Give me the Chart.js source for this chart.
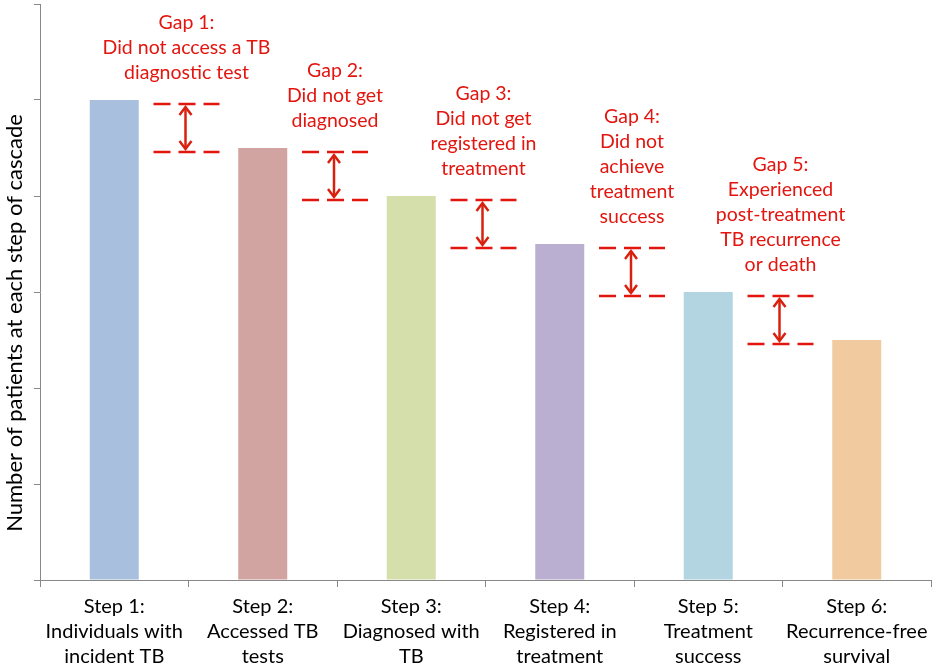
<!DOCTYPE html>
<html lang="en">
<head>
<meta charset="UTF-8">
<title>TB care cascade</title>
<script src="https://cdn.jsdelivr.net/npm/chart.js"></script>
<style>
  body { margin: 0; background: #fff; }
  #wrap { width: 935px; height: 669px; }
</style>
</head>
<body>
<div id="wrap"><canvas id="cascade" width="935" height="669"></canvas></div>
<script>
// step labels (multi-line)
var steps = [
  ['Step 1:', 'Individuals with', 'incident TB'],
  ['Step 2:', 'Accessed TB', 'tests'],
  ['Step 3:', 'Diagnosed with', 'TB'],
  ['Step 4:', 'Registered in', 'treatment'],
  ['Step 5:', 'Treatment', 'success'],
  ['Step 6:', 'Recurrence-free', 'survival']
];
// relative number of patients (axis has no numbers, read against tick marks)
var patients = [5, 4.5, 4, 3.5, 3, 2.5];
var barColors = ['#a9bfde', '#d1a4a1', '#d5dfab', '#bbafd1', '#b2d5e1', '#f1caa0'];

var gapLabels = [
  ['Gap 1:', 'Did not access a TB', 'diagnostic test'],
  ['Gap 2:', 'Did not get', 'diagnosed'],
  ['Gap 3:', 'Did not get', 'registered in', 'treatment'],
  ['Gap 4:', 'Did not', 'achieve', 'treatment', 'success'],
  ['Gap 5:', 'Experienced', 'post-treatment', 'TB recurrence', 'or death']
];

var yTitle = 'Number of patients at each step of cascade';

var red = '#e3150f';
var fontName = 'Lato, "Open Sans", sans-serif';

// dashed level lines, double arrows and the gap captions
var gapPlugin = {
  id: 'gaps',
  afterDatasetsDraw: function (chart) {
    var ctx = chart.ctx;
    var x = chart.scales.x, y = chart.scales.y;
    for (var i = 0; i < gapLabels.length; i++) {
      var xc = (x.getPixelForValue(i) + x.getPixelForValue(i + 1)) / 2 - 2;
      var yTop = y.getPixelForValue(patients[i]) + 4;
      var yBot = y.getPixelForValue(patients[i + 1]) + 4;

      ctx.save();
      ctx.strokeStyle = red;
      ctx.lineWidth = 2.5;
      ctx.setLineDash([17, 8]);
      [yTop, yBot].forEach(function (yy) {
        ctx.beginPath();
        ctx.moveTo(xc - 33, yy);
        ctx.lineTo(xc + 33, yy);
        ctx.stroke();
      });

      // arrow
      ctx.setLineDash([]);
      ctx.strokeStyle = '#d9200f';
      var ax = xc - 1, a1 = yTop + 3, a2 = yBot - 3;
      ctx.beginPath();
      ctx.moveTo(ax, a1);
      ctx.lineTo(ax, a2);
      ctx.stroke();
      ctx.beginPath();
      ctx.moveTo(ax - 6, a1 + 8); ctx.lineTo(ax, a1); ctx.lineTo(ax + 6, a1 + 8);
      ctx.moveTo(ax - 6, a2 - 8); ctx.lineTo(ax, a2); ctx.lineTo(ax + 6, a2 - 8);
      ctx.stroke();

      // caption above the upper line
      var lines = gapLabels[i];
      ctx.fillStyle = red;
      ctx.font = '19.5px ' + fontName;
      ctx.textAlign = 'center';
      ctx.textBaseline = 'middle';
      var lastY = yTop - 31;
      for (var k = 0; k < lines.length; k++) {
        ctx.fillText(lines[k], xc, lastY - (lines.length - 1 - k) * 25);
      }
      ctx.restore();
    }

    // y axis title, sits a little below the middle of the axis
    ctx.save();
    ctx.translate(14.5, (y.top + y.bottom) / 2 + 31);
    ctx.rotate(-Math.PI / 2);
    ctx.fillStyle = '#000';
    ctx.font = '22px ' + fontName;
    ctx.textAlign = 'center';
    ctx.textBaseline = 'middle';
    ctx.fillText(yTitle, 0, 0);
    ctx.restore();
  }
};

new Chart(document.getElementById('cascade').getContext('2d'), {
  type: 'bar',
  data: {
    labels: steps,
    datasets: [{
      data: patients,
      backgroundColor: barColors,
      borderWidth: 0,
      barPercentage: 0.33,
      categoryPercentage: 1
    }]
  },
  options: {
    responsive: false,
    animation: false,
    devicePixelRatio: 1,
    layout: { padding: { top: 4, right: 4, left: 0, bottom: 0 } },
    plugins: { legend: { display: false }, tooltip: { enabled: false } },
    scales: {
      x: {
        afterFit: function (s) { s.height = 89; },
        grid: { drawOnChartArea: false, offset: true, tickLength: 7, color: '#888' },
        border: { color: '#888' },
        ticks: { color: '#000', padding: 7, font: { family: fontName, size: 20, lineHeight: 25 / 20 } }
      },
      y: {
        min: 0,
        max: 6,
        afterFit: function (s) { s.width = 40; },
        ticks: { display: false, stepSize: 1 },
        grid: { drawOnChartArea: false, tickLength: 6, color: '#888' },
        border: { color: '#888' }
      }
    }
  },
  plugins: [gapPlugin]
});
</script>
</body>
</html>
